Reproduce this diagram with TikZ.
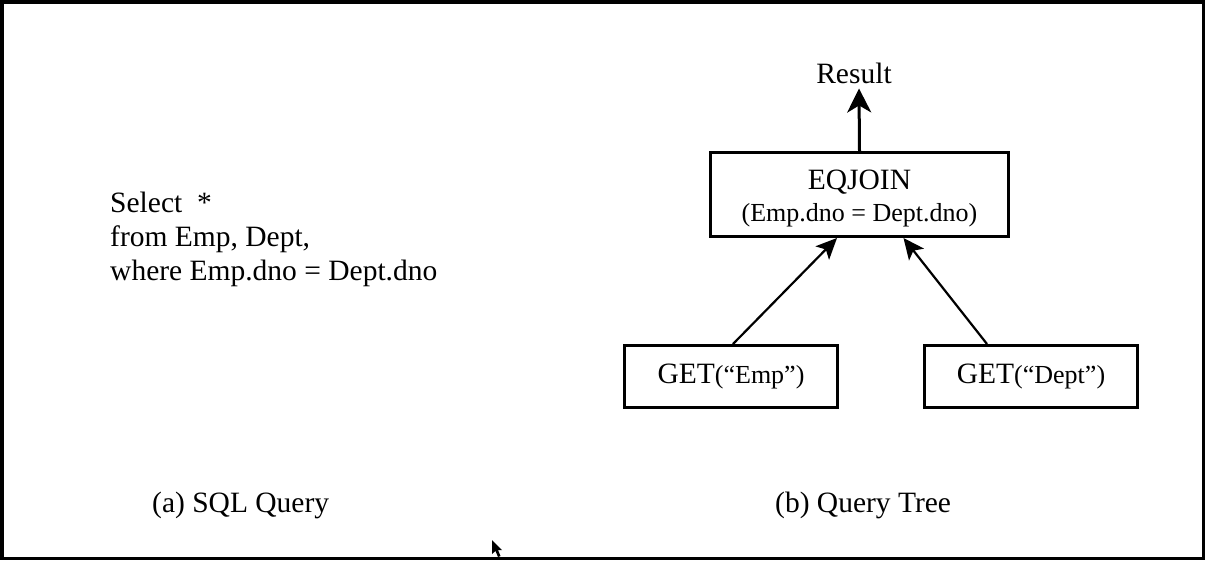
\documentclass[tikz,border=0pt]{standalone}
\usepackage{fontspec}
\setmainfont{Liberation Serif}
\usetikzlibrary{arrows.meta,calc}
\newcommand{\bigf}{\fontsize{29.5}{34}\selectfont}
\newcommand{\smf}{\fontsize{26}{30}\selectfont}
\tikzset{
  opbox/.style={draw, line width=3pt, minimum width=213pt, minimum height=62pt, inner sep=0pt, font=\bigf},
  txt/.style={inner sep=0pt, font=\bigf},
  bigarrow/.style={line width=3pt, -{Stealth[length=24pt,width=24pt,inset=7pt]}},
  thinarrow/.style={line width=2.2pt, -{Stealth[length=21pt,width=19pt,inset=5pt]}}
}
\begin{document}
\begin{tikzpicture}[x=1pt,y=-1pt]
\useasboundingbox (0,0) rectangle (1205,560);
\draw[line width=3.5pt] (1.75,1.75) rectangle (1203.25,558.25);

% left: SQL query
\node[txt, anchor=base west, align=left] (sql) at (110,280) {Select\ \ *\\from Emp, Dept,\\where Emp.dno = Dept.dno};

% right: query tree
\node[txt, anchor=base] (result) at (854,83) {Result};
\node[opbox, minimum width=298pt, minimum height=84pt] (eq) at (859.5,194.5)
  {\raisebox{-4pt}[\height][\depth]{\begin{tabular}{@{}c@{}}EQJOIN\\[-2pt]{\smf (Emp.dno = Dept.dno)}\end{tabular}}};
\node[opbox] (emp) at (731,376.5) {GET{\smf(``Emp'')}};
\node[opbox] (dept) at (1031,376.5) {GET{\smf(``Dept'')}};

\draw[bigarrow] (eq.north) -- ($(result.south)+(5,5)$);
\draw[thinarrow] ([xshift=2pt]emp.north) -- ([xshift=-22.5pt]eq.south);
\draw[thinarrow] ([xshift=-44pt]dept.north) -- ([xshift=44pt]eq.south);

% captions
\node[txt, anchor=base west] (capa) at (152,512) {(a) SQL Query};
\node[txt, anchor=base west] (capb) at (775,512) {(b) Query Tree};

% mouse pointer
\fill (492,540) -- (492,554) -- (495.5,551) -- (498,557) -- (500.5,556) -- (498,550) -- (502,550) -- cycle;
\end{tikzpicture}
\end{document}
